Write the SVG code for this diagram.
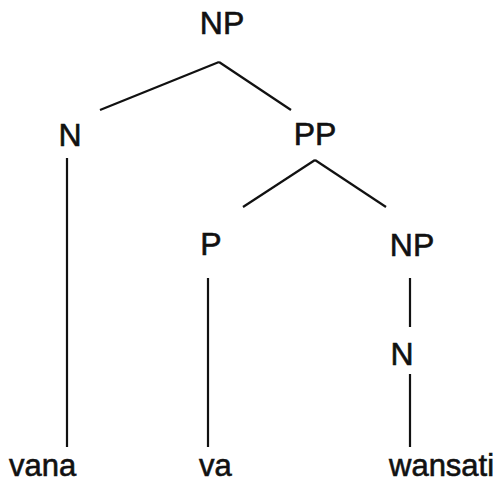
<svg xmlns="http://www.w3.org/2000/svg" width="499" height="483" viewBox="0 0 499 483">
<style>
text{font-family:"Liberation Sans",Arial,sans-serif;font-size:31px;fill:#111;stroke:#111;stroke-width:0.6}
.c{text-anchor:middle;font-size:32px}
line{stroke:#111;stroke-width:2.2;stroke-linecap:butt}
</style>
<rect width="499" height="483" fill="#fff"/>
<g id="connectors">
<line x1="219" y1="62" x2="100" y2="110"/>
<line x1="219" y1="62" x2="291" y2="110"/>
<line x1="67" y1="158" x2="67" y2="447"/>
<line x1="315" y1="160" x2="243" y2="207"/>
<line x1="315" y1="160" x2="386" y2="207"/>
<line x1="208" y1="278" x2="208" y2="447"/>
<line x1="410" y1="278" x2="410" y2="327"/>
<line x1="410" y1="374" x2="410" y2="447"/>
</g>
<g id="np1"><text class="c" x="222" y="34">NP</text></g>
<g id="n1"><text class="c" x="70" y="146">N</text></g>
<g id="pp"><text class="c" x="315" y="145">PP</text></g>
<g id="p"><text class="c" x="211" y="255">P</text></g>
<g id="np2"><text class="c" x="412" y="256">NP</text></g>
<g id="n2"><text class="c" x="402" y="365">N</text></g>
<g id="vana"><text x="9" y="476">vana</text></g>
<g id="va"><text x="199" y="476">va</text></g>
<g id="wansati"><text x="389" y="476">wansati</text></g>
</svg>
